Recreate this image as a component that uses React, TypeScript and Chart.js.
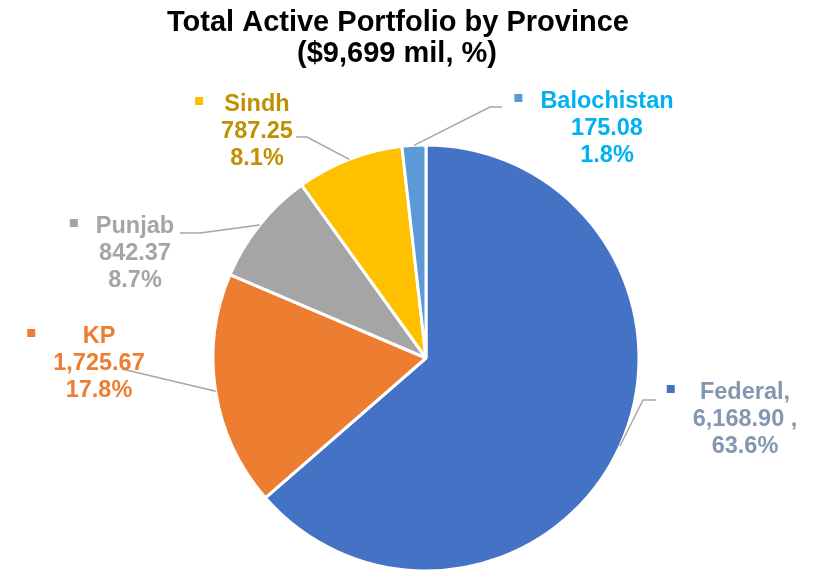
import React, { useEffect, useRef } from "react";
import Chart from "chart.js/auto";

// ---- Data ----
const provinces = ["Federal", "KP", "Punjab", "Sindh", "Balochistan"];
const portfolio = [6168.9, 1725.67, 842.37, 787.25, 175.08];
const sliceColors = ["#4472C4", "#ED7D31", "#A5A5A5", "#FFC000", "#5B9BD5"];
const labelColors = ["#8497B0", "#ED7D31", "#A5A5A5", "#BF9000", "#00B0F0"];
const nameSuffix = [",", "", "", "", ""];
const valueSuffix = [" ,", "", "", "", ""];
const titleLines = ["Total Active Portfolio by Province", "($9,699 mil, %)"];

// ---- Label layout (text center x, first baseline y, leader path points after the slice edge) ----
const labelCenterX = [745, 99, 135, 257, 607];
const labelTopBaseline = [399, 343, 233, 111, 108];
const leaderPaths: number[][][] = [
  [[643, 400], [656, 400]],
  [[122, 369]],
  [[200, 233], [180, 233]],
  [[307, 137], [296, 137]],
  [[490, 107], [502, 107]],
];

const FONT_FAMILY = "'Liberation Sans', Arial, Helvetica, sans-serif";
const LINE_GAP = 27;

function fmtNum(v: number) {
  return v.toLocaleString("en-US", { minimumFractionDigits: 2, maximumFractionDigits: 2 });
}

const labelPlugin = {
  id: "pieLabels",
  afterDraw(chart: any) {
    const ctx = chart.ctx as CanvasRenderingContext2D;
    const total = portfolio.reduce((a, b) => a + b, 0);
    const meta = chart.getDatasetMeta(0);
    ctx.save();

    // Title
    ctx.fillStyle = "#000000";
    ctx.font = `bold 29px ${FONT_FAMILY}`;
    ctx.textAlign = "center";
    ctx.textBaseline = "alphabetic";
    ctx.fillText(titleLines[0], 398, 30.5);
    ctx.fillText(titleLines[1], 397, 61.5);

    meta.data.forEach((arc: any, i: number) => {
      const p = arc.getProps(["x", "y", "startAngle", "endAngle", "outerRadius"], true);
      const mid = (p.startAngle + p.endAngle) / 2;
      const ex = p.x + Math.cos(mid) * p.outerRadius;
      const ey = p.y + Math.sin(mid) * p.outerRadius;

      // leader line
      ctx.strokeStyle = "#A6A6A6";
      ctx.lineWidth = 1.5;
      ctx.beginPath();
      ctx.moveTo(ex, ey);
      leaderPaths[i].forEach(([lx, ly]) => ctx.lineTo(lx, ly));
      ctx.stroke();

      // text
      const pct = ((portfolio[i] / total) * 100).toFixed(1) + "%";
      const lines = [
        provinces[i] + nameSuffix[i],
        fmtNum(portfolio[i]) + valueSuffix[i],
        pct,
      ];
      ctx.font = `bold 23.5px ${FONT_FAMILY}`;
      ctx.textAlign = "center";
      ctx.fillStyle = labelColors[i];
      const cx = labelCenterX[i];
      let maxW = 0;
      lines.forEach((t, k) => {
        const w = ctx.measureText(t).width;
        if (w > maxW) maxW = w;
        ctx.fillText(t, cx, labelTopBaseline[i] + k * LINE_GAP);
      });

      // legend key
      const left = cx - maxW / 2;
      ctx.fillStyle = sliceColors[i];
      ctx.fillRect(left - 26, labelTopBaseline[i] - 14, 8, 8);
    });
    ctx.restore();
  },
};

export default function App() {
  const ref = useRef<HTMLCanvasElement | null>(null);
  useEffect(() => {
    if (!ref.current) return;
    const chart = new Chart(ref.current, {
      type: "pie",
      data: {
        labels: provinces,
        datasets: [
          {
            data: portfolio,
            backgroundColor: sliceColors,
            borderColor: "#FFFFFF",
            borderWidth: 3,
            clip: false as any,
          },
        ],
      },
      options: {
        responsive: false,
        animation: false,
        radius: 213,
        layout: { padding: { left: 36, right: 0, top: 146, bottom: 0 } },
        plugins: {
          legend: { display: false },
          tooltip: { enabled: false },
          title: { display: false },
        },
      } as any,
      plugins: [labelPlugin],
    });
    return () => chart.destroy();
  }, []);
  return (
    <div style={{ position: "absolute", left: 0, top: 0, width: 816, height: 570, overflow: "hidden", background: "#fff" }}>
      <canvas ref={ref} width={816} height={570} style={{ display: "block", width: 816, height: 570 }} />
    </div>
  );
}
